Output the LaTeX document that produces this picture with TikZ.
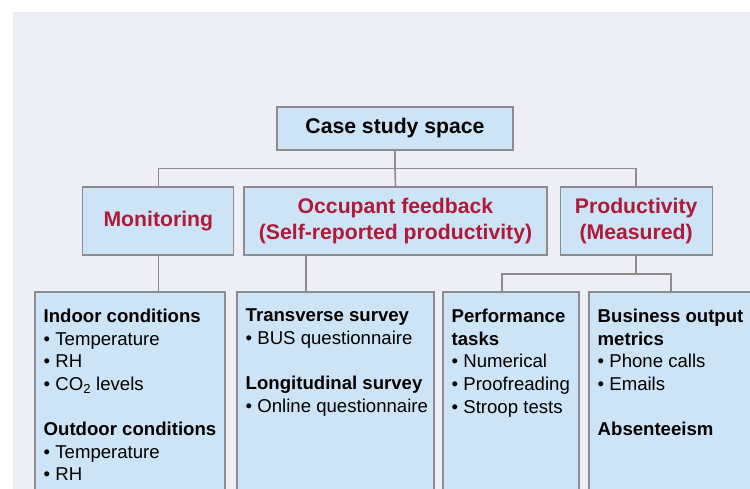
\documentclass[tikz,border=0pt]{standalone}
\usepackage{fontspec}
\setmainfont{Liberation Sans}
\usetikzlibrary{positioning}
\definecolor{pagetint}{RGB}{238,238,246}
\definecolor{boxfill}{RGB}{204,228,246}
\definecolor{boxline}{RGB}{140,140,140}
\definecolor{headred}{RGB}{176,26,56}

\begin{document}
\begin{tikzpicture}[
  x=1pt,y=-1pt,
  head/.style={draw=boxline,fill=boxfill,line width=1.2pt,align=center,inner sep=0pt,minimum height=68pt,font=\fontsize{21.2}{26}\selectfont\bfseries,text=headred},
  leaf/.style={draw=boxline,fill=boxfill,line width=1.2pt,inner sep=0pt,outer sep=0pt,minimum height=240pt,anchor=north west},
  leaf text/.style={anchor=north west,align=left,inner sep=0pt,font=\fontsize{18.6}{22.6}\selectfont},
  link/.style={draw=boxline,line width=1.6pt}
]
\useasboundingbox (0,0) rectangle (750,489);
\clip (0,0) rectangle (750,489);
\fill[pagetint] (13,12) rectangle (750,489);

\node[head,text=black,minimum width=236pt,minimum height=43pt] (root) at (395,128.5) {Case study space};

\node[head,minimum width=303pt] (occ) at (395.5,221) {Occupant feedback\\(Self-reported productivity)};
\node[head,minimum width=151pt,left=9pt of occ] (mon) {Monitoring};
\node[head,minimum width=152pt,right=12pt of occ] (prod) {Productivity\\(Measured)};

\node[leaf,minimum width=190pt] (indoor) at (35,292) {};
\node[leaf,minimum width=197pt] (trans) at (237,292) {};
\node[leaf,minimum width=136pt] (perf) at (443,292) {};
\node[leaf,minimum width=180pt] (biz) at (589,292) {};

\node[leaf text] (t1) at ([shift={(8.5pt,-17pt)}]indoor.north west) {\textbf{Indoor conditions}\\
  • Temperature\\ • RH\\ • CO\textsubscript{2} levels\\[22.6pt]
  \textbf{Outdoor conditions}\\ • Temperature\\ • RH};
\node[leaf text] (t2) at ([shift={(8.5pt,-17pt)}]trans.north west) {\textbf{Transverse survey}\\
  • BUS questionnaire\\[22.6pt]
  \textbf{Longitudinal survey}\\ • Online questionnaire};
\node[leaf text] (t3) at ([shift={(8.5pt,-17pt)}]perf.north west) {\textbf{Performance}\\ \textbf{tasks}\\
  • Numerical\\ • Proofreading\\ • Stroop tests};
\node[leaf text] (t4) at ([shift={(8.5pt,-17pt)}]biz.north west) {\textbf{Business output}\\ \textbf{metrics}\\
  • Phone calls\\ • Emails\\[22.6pt]
  \textbf{Absenteeism}};

\draw[link] (root.south) -- ++(0,18) coordinate (hub);
\draw[link] (mon.north) |- (hub) -| (prod.north);
\draw[link] (hub) -- (occ.north);
\draw[link] (mon.south) -- (mon.south |- indoor.north);
\coordinate (occdrop) at ([xshift=-89.5pt]occ.south);
\draw[link] (occdrop) -- (occdrop |- trans.north);
\draw[link] (prod.south) -- ++(0,19) coordinate (fork);
\coordinate (fl) at (502,274);
\coordinate (fr) at (671,274);
\draw[link] (fl |- perf.north) -- (fl) -- (fr) -- (fr |- biz.north);
\end{tikzpicture}
\end{document}
